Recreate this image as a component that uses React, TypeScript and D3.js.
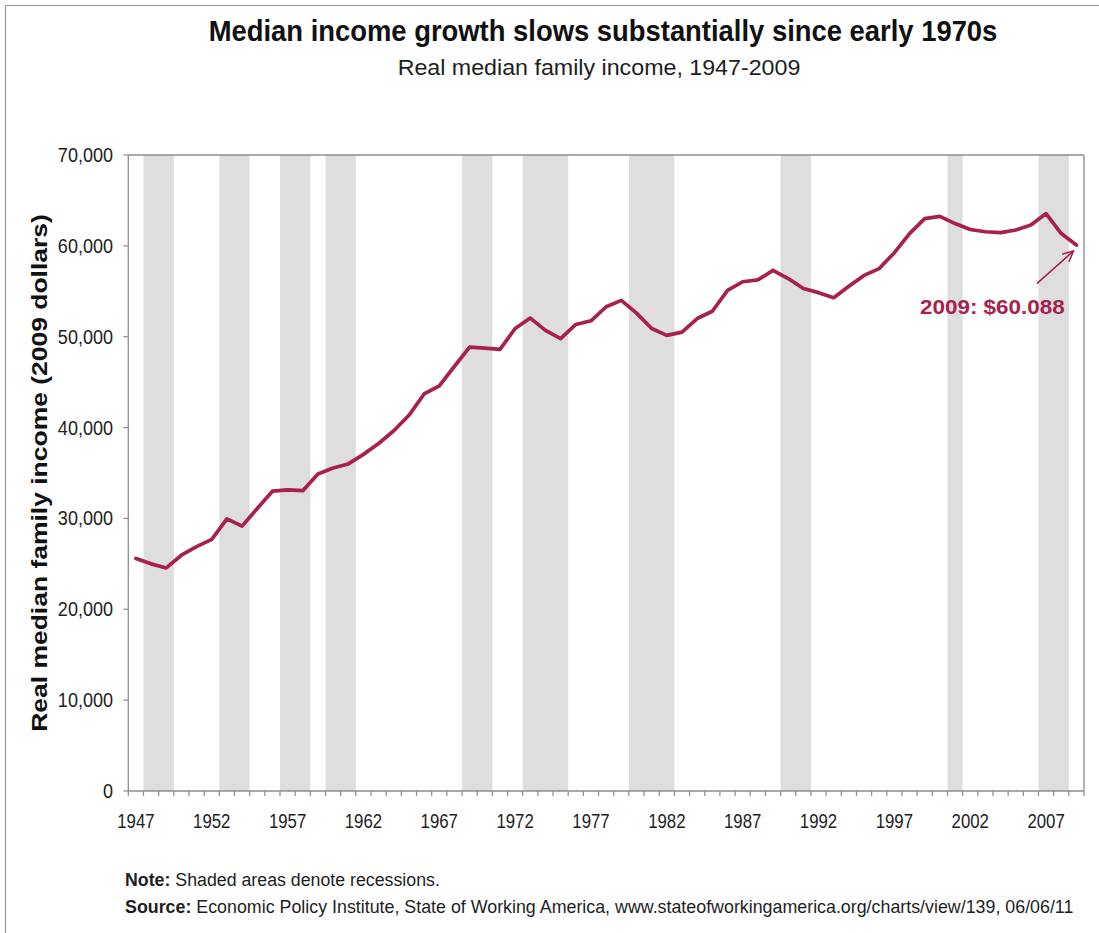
import React, { useRef, useLayoutEffect, useState } from "react";
import * as d3 from "d3";

const years: number[] = [
  1947, 1948, 1949, 1950, 1951, 1952, 1953, 1954, 1955, 1956,
  1957, 1958, 1959, 1960, 1961, 1962, 1963, 1964, 1965, 1966,
  1967, 1968, 1969, 1970, 1971, 1972, 1973, 1974, 1975, 1976,
  1977, 1978, 1979, 1980, 1981, 1982, 1983, 1984, 1985, 1986,
  1987, 1988, 1989, 1990, 1991, 1992, 1993, 1994, 1995, 1996,
  1997, 1998, 1999, 2000, 2001, 2002, 2003, 2004, 2005, 2006,
  2007, 2008, 2009,
];

const income: number[] = [
  25600, 25000, 24550, 25950, 26900, 27700, 29950, 29150, 31100, 33000,
  33150, 33050, 34900, 35550, 36000, 37050, 38250, 39650, 41350, 43700,
  44600, 46750, 48850, 48750, 48600, 50900, 52050, 50700, 49800, 51350,
  51750, 53300, 54000, 52600, 50900, 50150, 50500, 52000, 52800, 55100,
  56050, 56250, 57300, 56400, 55300, 54850, 54300, 55550, 56750, 57500,
  59250, 61350, 63000, 63250, 62450, 61800, 61550, 61450, 61750, 62300,
  63550, 61350, 60088,
];

const recessionStart: number[] = [1948, 1953, 1957, 1960, 1969, 1973, 1980, 1990, 2001, 2007];
const recessionEnd: number[] = [1949, 1954, 1958, 1961, 1970, 1975, 1982, 1991, 2001, 2008];

const yTicks: number[] = [0, 10000, 20000, 30000, 40000, 50000, 60000, 70000];
const xTickLabels: number[] = [1947, 1952, 1957, 1962, 1967, 1972, 1977, 1982, 1987, 1992, 1997, 2002, 2007];

const title = "Median income growth slows substantially since early 1970s";
const subtitle = "Real median family income, 1947-2009";
const yLabel = "Real median family income (2009 dollars)";
const annotation = "2009: $60.088";
const noteBold = "Note:";
const noteText = " Shaded areas denote recessions.";
const sourceBold = "Source:";
const sourceText = " Economic Policy Institute, State of Working America, www.stateofworkingamerica.org/charts/view/139, 06/06/11";

const FONT = "'Liberation Sans', Arial, Helvetica, sans-serif";
const LINE = "#A8204E";
const SHADE = "#DEDEDE";
const AXIS = "#8C8C8C";
const TEXT = "#1e1e1e";

function FitText(props: any) {
  const { x, y, width, anchor = "start", rotate = 0, children, ...rest } = props;
  const ref = useRef<SVGTextElement>(null);
  const [s, setS] = useState(1);
  useLayoutEffect(() => {
    if (ref.current) {
      const w = ref.current.getBBox().width;
      if (w > 0) setS(width / w);
    }
  }, [width]);
  return (
    <g transform={`translate(${x},${y}) rotate(${rotate}) scale(${s},1)`}>
      <text ref={ref} textAnchor={anchor} fontFamily={FONT} {...rest}>
        {children}
      </text>
    </g>
  );
}

export default function App() {
  const W = 1099;
  const H = 933;
  const left = 128.3;
  const right = 1084;
  const top = 155;
  const bottom = 791;

  const x = d3.scaleBand<number>().domain(years).range([left, right]).padding(0);
  const bw = x.bandwidth();
  const y = d3.scaleLinear().domain([0, 70000]).range([bottom, top]);
  const cx = (yr: number) => (x(yr) as number) + bw / 2;

  const line = d3
    .line<number>()
    .x((_, i) => cx(years[i]))
    .y((d) => y(d))
    .curve(d3.curveLinear);

  const boundaries = d3.range(years.length + 1).map((i) => left + i * bw);

  // annotation arrow
  const ax2 = cx(2009) - 3;
  const ay2 = y(income[income.length - 1]) + 6;
  const ax1 = ax2 - 36;
  const ay1 = ay2 + 32;
  const ang = Math.atan2(ay2 - ay1, ax2 - ax1);
  const hl = 11;
  const ha = 0.45;

  return (
    <svg
      width={W}
      height={H}
      style={{ position: "absolute", left: 0, top: 0, background: "#fff" }}
    >
      <rect x={0} y={0} width={W} height={H} fill="#fff" />
      {/* outer frame */}
      <line x1={5.5} y1={5.5} x2={W} y2={5.5} stroke="#9a9a9a" strokeWidth={1.2} />
      <line x1={5.5} y1={5.5} x2={5.5} y2={H} stroke="#9a9a9a" strokeWidth={1.2} />

      {/* titles */}
      <FitText x={603} y={41} width={789} anchor="middle" fontSize={29} fontWeight="bold" fill="#111">
        {title}
      </FitText>
      <FitText x={599} y={75} width={403} anchor="middle" fontSize={22} fill={TEXT}>
        {subtitle}
      </FitText>

      {/* recessions */}
      {recessionStart.map((s, i) => (
        <rect
          key={s}
          x={x(s) as number}
          y={top}
          width={(x(recessionEnd[i]) as number) + bw - (x(s) as number)}
          height={bottom - top}
          fill={SHADE}
        />
      ))}

      {/* plot frame */}
      <line x1={left} y1={top} x2={right} y2={top} stroke={AXIS} strokeWidth={1.3} />
      <line x1={right} y1={top} x2={right} y2={bottom} stroke={AXIS} strokeWidth={1.3} />
      <line x1={left} y1={top} x2={left} y2={bottom} stroke={AXIS} strokeWidth={1.3} />
      <line x1={left} y1={bottom} x2={right} y2={bottom} stroke={AXIS} strokeWidth={1.3} />

      {/* y ticks */}
      {yTicks.map((t) => (
        <g key={t}>
          <line x1={left - 5} x2={left} y1={y(t)} y2={y(t)} stroke={AXIS} strokeWidth={1.2} />
          <g transform={`translate(113,${y(t) + 7}) scale(0.88,1)`}>
            <text textAnchor="end" fontFamily={FONT} fontSize={20.5} fill={TEXT}>
              {d3.format(",")(t)}
            </text>
          </g>
        </g>
      ))}

      {/* x ticks */}
      {boundaries.map((b, i) => (
        <line key={i} x1={b} x2={b} y1={bottom} y2={bottom + 5} stroke={AXIS} strokeWidth={1.2} />
      ))}
      {xTickLabels.map((yr) => (
        <g key={yr} transform={`translate(${cx(yr)},828) scale(0.8,1)`}>
          <text textAnchor="middle" fontFamily={FONT} fontSize={21} fill={TEXT}>
            {yr}
          </text>
        </g>
      ))}

      {/* y label */}
      <FitText x={47} y={473} width={518} anchor="middle" rotate={-90} fontSize={22} fontWeight="bold" fill="#111">
        {yLabel}
      </FitText>

      {/* series */}
      <path
        d={line(income) || ""}
        fill="none"
        stroke={LINE}
        strokeWidth={3.7}
        strokeLinejoin="round"
        strokeLinecap="round"
      />

      {/* annotation */}
      <g stroke={LINE} strokeWidth={1.6} fill="none" strokeLinecap="round">
        <line x1={ax1} y1={ay1} x2={ax2} y2={ay2} />
        <line
          x1={ax2}
          y1={ay2}
          x2={ax2 - hl * Math.cos(ang - ha)}
          y2={ay2 - hl * Math.sin(ang - ha)}
        />
        <line
          x1={ax2}
          y1={ay2}
          x2={ax2 - hl * Math.cos(ang + ha)}
          y2={ay2 - hl * Math.sin(ang + ha)}
        />
      </g>
      <FitText x={920} y={314} width={145} anchor="start" fontSize={21} fontWeight="bold" fill={LINE}>
        {annotation}
      </FitText>

      {/* notes */}
      <FitText x={125} y={886} width={315} anchor="start" fontSize={18} fill={TEXT}>
        <tspan fontWeight="bold">{noteBold}</tspan>
        <tspan>{noteText}</tspan>
      </FitText>
      <FitText x={125} y={913} width={949} anchor="start" fontSize={18} fill={TEXT}>
        <tspan fontWeight="bold">{sourceBold}</tspan>
        <tspan>{sourceText}</tspan>
      </FitText>
    </svg>
  );
}
